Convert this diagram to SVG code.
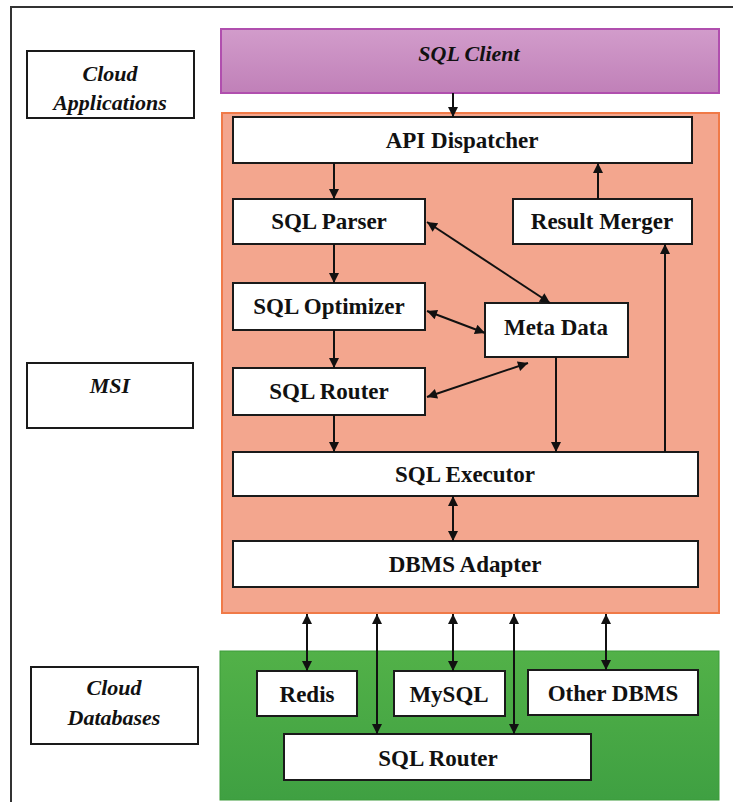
<svg xmlns="http://www.w3.org/2000/svg" width="733" height="802" viewBox="0 0 733 802">
<defs>
<marker id="ah" viewBox="0 0 10 10" refX="10" refY="5" markerWidth="11" markerHeight="10" markerUnits="userSpaceOnUse" orient="auto-start-reverse">
<path d="M0,0 L10,5 L0,10 z" fill="#111"/>
</marker>
<linearGradient id="pg" x1="0" y1="0" x2="0" y2="1">
<stop offset="0" stop-color="#d29ccb"/><stop offset="1" stop-color="#c080b8"/>
</linearGradient>
<linearGradient id="gg" x1="0" y1="0" x2="0" y2="1">
<stop offset="0" stop-color="#52b148"/><stop offset="1" stop-color="#3fa042"/>
</linearGradient>
</defs>
<style>
.box{fill:#fff;stroke:#1a1a1a;stroke-width:2}
.t{font-family:"Liberation Serif","Times New Roman",serif;font-weight:bold;font-size:23px;fill:#111;text-anchor:middle}
.ti{font-style:italic;font-size:22px}
.c{stroke:#111;stroke-width:2;fill:none}
</style>
<rect width="733" height="802" fill="#fff"/>
<path d="M11,802 L11,7 L733,7" fill="none" stroke="#333" stroke-width="2"/>

<g id="cloud-applications"><rect class="box" x="27" y="51" width="167" height="67"/><text class="t ti" x="110" y="81">Cloud</text><text class="t ti" x="110" y="110">Applications</text></g>
<g id="msi"><rect class="box" x="27" y="363" width="166" height="65"/><text class="t ti" x="110" y="393">MSI</text></g>
<g id="cloud-databases"><rect class="box" x="31" y="667" width="167" height="77"/><text class="t ti" x="114" y="695">Cloud</text><text class="t ti" x="114" y="725">Databases</text></g>

<g id="sql-client"><rect x="221" y="29" width="498" height="64" fill="url(#pg)" stroke="#b04fae" stroke-width="2"/><text class="t ti" x="469" y="61">SQL Client</text></g>
<g id="msi-container"><rect x="222" y="113" width="497" height="500" fill="#f3a68e" stroke="#f07a48" stroke-width="2"/></g>
<g id="db-container"><rect x="220" y="651" width="499" height="149" fill="url(#gg)" stroke="#3c9c3a" stroke-width="1"/></g>

<g id="api-dispatcher"><rect class="box" x="233" y="117" width="459" height="46"/><text class="t" x="462" y="148">API Dispatcher</text></g>
<g id="sql-parser"><rect class="box" x="233" y="199" width="192" height="45"/><text class="t" x="329" y="229">SQL Parser</text></g>
<g id="result-merger"><rect class="box" x="513" y="199" width="179" height="45"/><text class="t" x="602" y="229">Result Merger</text></g>
<g id="sql-optimizer"><rect class="box" x="233" y="283" width="192" height="47"/><text class="t" x="329" y="314">SQL Optimizer</text></g>
<g id="meta-data"><rect class="box" x="485" y="303" width="143" height="54"/><text class="t" x="556" y="335">Meta Data</text></g>
<g id="sql-router"><rect class="box" x="233" y="368" width="192" height="47"/><text class="t" x="329" y="399">SQL Router</text></g>
<g id="sql-executor"><rect class="box" x="233" y="452" width="465" height="44"/><text class="t" x="465" y="482">SQL Executor</text></g>
<g id="dbms-adapter"><rect class="box" x="233" y="541" width="465" height="46"/><text class="t" x="465" y="572">DBMS Adapter</text></g>

<g id="redis"><rect class="box" x="257" y="671" width="100" height="45"/><text class="t" x="307" y="702">Redis</text></g>
<g id="mysql"><rect class="box" x="394" y="671" width="111" height="45"/><text class="t" x="449" y="702">MySQL</text></g>
<g id="other-dbms"><rect class="box" x="528" y="670" width="170" height="45"/><text class="t" x="613" y="701">Other DBMS</text></g>
<g id="sql-router-db"><rect class="box" x="284" y="734" width="307" height="46"/><text class="t" x="438" y="766">SQL Router</text></g>

<g id="connectors">
<line class="c" x1="453" y1="93" x2="453" y2="117" marker-end="url(#ah)"/>
<line class="c" x1="334" y1="163" x2="334" y2="199" marker-end="url(#ah)"/>
<line class="c" x1="598" y1="199" x2="598" y2="163" marker-end="url(#ah)"/>
<line class="c" x1="665" y1="452" x2="665" y2="244" marker-end="url(#ah)"/>
<line class="c" x1="334" y1="244" x2="334" y2="283" marker-end="url(#ah)"/>
<line class="c" x1="334" y1="330" x2="334" y2="368" marker-end="url(#ah)"/>
<line class="c" x1="334" y1="415" x2="334" y2="452" marker-end="url(#ah)"/>
<line class="c" x1="556" y1="357" x2="556" y2="452" marker-end="url(#ah)"/>
<line class="c" x1="427" y1="222" x2="550" y2="303" marker-start="url(#ah)" marker-end="url(#ah)"/>
<line class="c" x1="427" y1="311" x2="485" y2="333" marker-start="url(#ah)" marker-end="url(#ah)"/>
<line class="c" x1="427" y1="397" x2="528" y2="363" marker-start="url(#ah)" marker-end="url(#ah)"/>
<line class="c" x1="453" y1="496" x2="453" y2="541" marker-start="url(#ah)" marker-end="url(#ah)"/>
<line class="c" x1="307" y1="614" x2="307" y2="671" marker-start="url(#ah)" marker-end="url(#ah)"/>
<line class="c" x1="377" y1="614" x2="377" y2="734" marker-start="url(#ah)" marker-end="url(#ah)"/>
<line class="c" x1="453" y1="614" x2="453" y2="671" marker-start="url(#ah)" marker-end="url(#ah)"/>
<line class="c" x1="514" y1="614" x2="514" y2="734" marker-start="url(#ah)" marker-end="url(#ah)"/>
<line class="c" x1="606" y1="614" x2="606" y2="670" marker-start="url(#ah)" marker-end="url(#ah)"/>
</g>
</svg>
